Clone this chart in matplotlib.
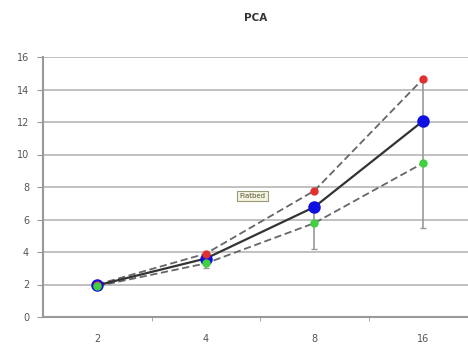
import matplotlib.pyplot as plt
import numpy as np

categories = ['2', '4', '8', '16']
mean_vals = [1.95, 3.6, 6.77, 12.06]
upper_vals = [2.0, 3.9, 7.77, 14.65]
lower_vals = [1.9, 3.3, 5.78, 9.47]
err_low = [1.95, 3.0, 4.2, 5.45]
err_high = [1.95, 3.9, 6.77, 14.5]

fig = plt.figure(figsize=(4.68, 3.55), dpi=100)
ax = fig.add_axes([43 / 468, 38 / 355, 1 - 43 / 468, 260 / 355])

x = np.arange(len(categories))
mean = np.array(mean_vals)
yerr = [mean - np.array(err_low), np.array(err_high) - mean]

ax.errorbar(x, mean, yerr=yerr, fmt='none', ecolor='#999999', elinewidth=1.2,
            capsize=2, capthick=1, zorder=2)
ax.plot(x, upper_vals, '--', color='#666666', lw=1.3, dashes=(4, 2), zorder=3)
ax.plot(x, lower_vals, '--', color='#666666', lw=1.3, dashes=(4, 2), zorder=3)
ax.plot(x, mean_vals, '-', color='#333333', lw=1.6, zorder=4)
ax.plot(x, mean_vals, 'o', color='#1010e0', ms=8, zorder=5)
ax.plot(x, upper_vals, 'o', color='#e03030', ms=5, zorder=6)
ax.plot(x, lower_vals, 'o', color='#40d040', ms=5, zorder=6)

ax.set_xlim(-0.5, 3.415)
ax.set_ylim(0, 16)
ax.set_yticks(np.arange(0, 17, 2))
ax.set_xticks(x)
ax.set_xticklabels(categories)
ax.set_xticks([0.5, 1.5, 2.5], minor=True)
ax.grid(axis='y', color='#b0b0b0', lw=1.1)
ax.set_axisbelow(True)

for s in ['top', 'right']:
    ax.spines[s].set_visible(False)
ax.spines['left'].set_color('#999999')
ax.spines['bottom'].set_color('#999999')
ax.spines['left'].set_linewidth(1.5)
ax.spines['bottom'].set_linewidth(1.5)
ax.tick_params(axis='x', which='major', length=0, pad=12, labelsize=7, labelcolor='#555555')
ax.tick_params(axis='x', which='minor', length=3, color='#999999', direction='out')
ax.tick_params(axis='y', length=4, color='#999999', labelsize=7, labelcolor='#555555', pad=6)

ax.text(1.43, 7.45, 'Flatbed', fontsize=5, color='#555533', ha='center', va='center',
        bbox=dict(boxstyle='square,pad=0.3', fc='#f4f4e0', ec='#999977', lw=0.8))

fig.text(256 / 468, 1 - 18 / 355, 'PCA', ha='center', va='center',
         fontsize=7.5, fontweight='bold', color='#333333')

fig.savefig('out.png', dpi=100)
